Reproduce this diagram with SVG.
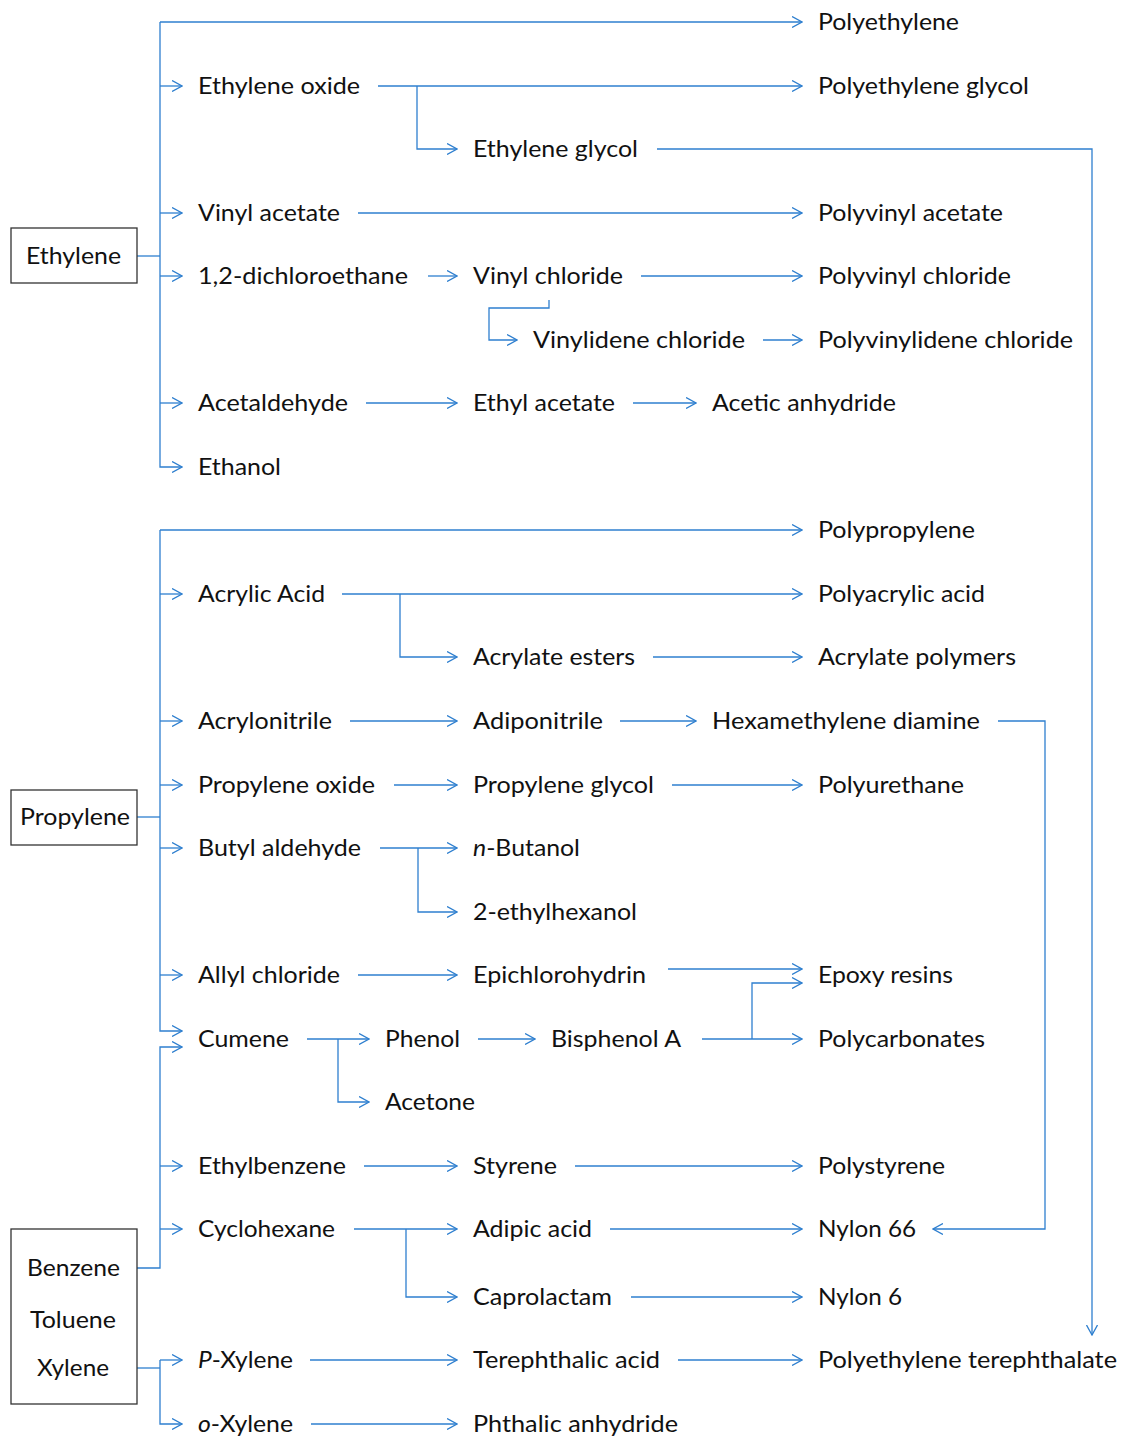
<svg xmlns="http://www.w3.org/2000/svg" width="1121" height="1438" viewBox="0 0 1121 1438">
<style>
text{font-family:Lato,"Noto Sans","Liberation Sans",sans-serif;font-size:23px;fill:#111;}
.c{fill:none;stroke:#2E7FCF;stroke-width:1.3;}
.a{marker-end:url(#ah);}
.box{fill:#fff;stroke:#333;stroke-width:1.3;}
.i{font-style:italic;}
</style>
<defs>
<marker id="ah" viewBox="0 0 11 12" refX="10" refY="6" markerWidth="11" markerHeight="12" markerUnits="userSpaceOnUse" orient="auto">
<path d="M0,0.5 L10,6 L0,11.5" fill="none" stroke="#2E7FCF" stroke-width="1.3"/>
</marker>
</defs>
<rect width="1121" height="1438" fill="#fff"/>
<g id="connectors">
<path class="c a" d="M160,22 H802"/>
<path class="c a" d="M160,22 V467 H182"/>
<path class="c" d="M137,256 H160"/>
<path class="c a" d="M160,86 H182"/>
<path class="c a" d="M160,213 H182"/>
<path class="c a" d="M160,276 H182"/>
<path class="c a" d="M160,403 H182"/>
<path class="c a" d="M378,86 H802"/>
<path class="c a" d="M417,86 V149 H457"/>
<path class="c a" d="M657,149 H1092 V1335"/>
<path class="c a" d="M358,213 H802"/>
<path class="c a" d="M428,276 H457"/>
<path class="c a" d="M641,276 H802"/>
<path class="c a" d="M549,300 V308 H489 V340 H517"/>
<path class="c a" d="M763,340 H802"/>
<path class="c a" d="M366,403 H457"/>
<path class="c a" d="M633,403 H696"/>
<path class="c a" d="M160,530 H802"/>
<path class="c a" d="M160,530 V1031 H182"/>
<path class="c" d="M137,817 H160"/>
<path class="c a" d="M160,594 H182"/>
<path class="c a" d="M160,721 H182"/>
<path class="c a" d="M160,785 H182"/>
<path class="c a" d="M160,848 H182"/>
<path class="c a" d="M160,975 H182"/>
<path class="c a" d="M342,594 H802"/>
<path class="c a" d="M400,594 V657 H457"/>
<path class="c a" d="M653,657 H802"/>
<path class="c a" d="M350,721 H457"/>
<path class="c a" d="M620,721 H696"/>
<path class="c a" d="M998,721 H1045 V1229 H933"/>
<path class="c a" d="M394,785 H457"/>
<path class="c a" d="M672,785 H802"/>
<path class="c a" d="M380,848 H457"/>
<path class="c a" d="M418,848 V912 H457"/>
<path class="c a" d="M358,975 H457"/>
<path class="c a" d="M668,969 H802"/>
<path class="c a" d="M702,1039 H802"/>
<path class="c a" d="M752,1039 V983 H802"/>
<path class="c a" d="M307,1039 H369"/>
<path class="c a" d="M338,1039 V1102 H369"/>
<path class="c a" d="M478,1039 H535"/>
<path class="c a" d="M137,1268 H160 V1047 H182"/>
<path class="c a" d="M160,1166 H182"/>
<path class="c a" d="M160,1229 H182"/>
<path class="c a" d="M364,1166 H457"/>
<path class="c a" d="M575,1166 H802"/>
<path class="c a" d="M354,1229 H457"/>
<path class="c a" d="M406,1229 V1297 H457"/>
<path class="c a" d="M610,1229 H802"/>
<path class="c a" d="M631,1297 H802"/>
<path class="c" d="M137,1368 H160"/>
<path class="c a" d="M160,1360 V1424 H182"/>
<path class="c a" d="M160,1360 H182"/>
<path class="c a" d="M310,1360 H457"/>
<path class="c a" d="M678,1360 H802"/>
<path class="c a" d="M311,1424 H457"/>
</g>
<g id="ethylene"><rect class="box" x="11" y="228" width="126" height="55"/><text x="26" y="264" textLength="95" lengthAdjust="spacingAndGlyphs">Ethylene</text></g>
<g id="polyethylene"><text x="818" y="30" textLength="141" lengthAdjust="spacingAndGlyphs">Polyethylene</text></g>
<g id="ethylene-oxide"><text x="198" y="94" textLength="162" lengthAdjust="spacingAndGlyphs">Ethylene oxide</text></g>
<g id="polyethylene-glycol"><text x="818" y="94" textLength="211" lengthAdjust="spacingAndGlyphs">Polyethylene glycol</text></g>
<g id="ethylene-glycol"><text x="473" y="157" textLength="165" lengthAdjust="spacingAndGlyphs">Ethylene glycol</text></g>
<g id="vinyl-acetate"><text x="198" y="221" textLength="142" lengthAdjust="spacingAndGlyphs">Vinyl acetate</text></g>
<g id="polyvinyl-acetate"><text x="818" y="221" textLength="185" lengthAdjust="spacingAndGlyphs">Polyvinyl acetate</text></g>
<g id="dichloroethane"><text x="198" y="284" textLength="210" lengthAdjust="spacingAndGlyphs">1,2-dichloroethane</text></g>
<g id="vinyl-chloride"><text x="473" y="284" textLength="150" lengthAdjust="spacingAndGlyphs">Vinyl chloride</text></g>
<g id="polyvinyl-chloride"><text x="818" y="284" textLength="193" lengthAdjust="spacingAndGlyphs">Polyvinyl chloride</text></g>
<g id="vinylidene-chloride"><text x="533" y="348" textLength="212" lengthAdjust="spacingAndGlyphs">Vinylidene chloride</text></g>
<g id="polyvinylidene-chloride"><text x="818" y="348" textLength="255" lengthAdjust="spacingAndGlyphs">Polyvinylidene chloride</text></g>
<g id="acetaldehyde"><text x="198" y="411" textLength="150" lengthAdjust="spacingAndGlyphs">Acetaldehyde</text></g>
<g id="ethyl-acetate"><text x="473" y="411" textLength="142" lengthAdjust="spacingAndGlyphs">Ethyl acetate</text></g>
<g id="acetic-anhydride"><text x="712" y="411" textLength="184" lengthAdjust="spacingAndGlyphs">Acetic anhydride</text></g>
<g id="ethanol"><text x="198" y="475" textLength="83" lengthAdjust="spacingAndGlyphs">Ethanol</text></g>
<g id="propylene"><rect class="box" x="11" y="790" width="126" height="55"/><text x="20" y="825" textLength="110" lengthAdjust="spacingAndGlyphs">Propylene</text></g>
<g id="polypropylene"><text x="818" y="538" textLength="157" lengthAdjust="spacingAndGlyphs">Polypropylene</text></g>
<g id="acrylic-acid"><text x="198" y="602" textLength="127" lengthAdjust="spacingAndGlyphs">Acrylic Acid</text></g>
<g id="polyacrylic-acid"><text x="818" y="602" textLength="167" lengthAdjust="spacingAndGlyphs">Polyacrylic acid</text></g>
<g id="acrylate-esters"><text x="473" y="665" textLength="162" lengthAdjust="spacingAndGlyphs">Acrylate esters</text></g>
<g id="acrylate-polymers"><text x="818" y="665" textLength="198" lengthAdjust="spacingAndGlyphs">Acrylate polymers</text></g>
<g id="acrylonitrile"><text x="198" y="729" textLength="134" lengthAdjust="spacingAndGlyphs">Acrylonitrile</text></g>
<g id="adiponitrile"><text x="473" y="729" textLength="130" lengthAdjust="spacingAndGlyphs">Adiponitrile</text></g>
<g id="hexamethylene-diamine"><text x="712" y="729" textLength="268" lengthAdjust="spacingAndGlyphs">Hexamethylene diamine</text></g>
<g id="propylene-oxide"><text x="198" y="793" textLength="177" lengthAdjust="spacingAndGlyphs">Propylene oxide</text></g>
<g id="propylene-glycol"><text x="473" y="793" textLength="181" lengthAdjust="spacingAndGlyphs">Propylene glycol</text></g>
<g id="polyurethane"><text x="818" y="793" textLength="146" lengthAdjust="spacingAndGlyphs">Polyurethane</text></g>
<g id="butyl-aldehyde"><text x="198" y="856" textLength="163" lengthAdjust="spacingAndGlyphs">Butyl aldehyde</text></g>
<g id="n-butanol"><text x="473" y="856" textLength="107" lengthAdjust="spacingAndGlyphs"><tspan class="i">n</tspan>-Butanol</text></g>
<g id="ethylhexanol"><text x="473" y="920" textLength="164" lengthAdjust="spacingAndGlyphs">2-ethylhexanol</text></g>
<g id="allyl-chloride"><text x="198" y="983" textLength="142" lengthAdjust="spacingAndGlyphs">Allyl chloride</text></g>
<g id="epichlorohydrin"><text x="473" y="983" textLength="173" lengthAdjust="spacingAndGlyphs">Epichlorohydrin</text></g>
<g id="epoxy-resins"><text x="818" y="983" textLength="135" lengthAdjust="spacingAndGlyphs">Epoxy resins</text></g>
<g id="cumene"><text x="198" y="1047" textLength="91" lengthAdjust="spacingAndGlyphs">Cumene</text></g>
<g id="phenol"><text x="385" y="1047" textLength="75" lengthAdjust="spacingAndGlyphs">Phenol</text></g>
<g id="bisphenol-a"><text x="551" y="1047" textLength="130" lengthAdjust="spacingAndGlyphs">Bisphenol A</text></g>
<g id="polycarbonates"><text x="818" y="1047" textLength="167" lengthAdjust="spacingAndGlyphs">Polycarbonates</text></g>
<g id="acetone"><text x="385" y="1110" textLength="90" lengthAdjust="spacingAndGlyphs">Acetone</text></g>
<g id="ethylbenzene"><text x="198" y="1174" textLength="148" lengthAdjust="spacingAndGlyphs">Ethylbenzene</text></g>
<g id="styrene"><text x="473" y="1174" textLength="84" lengthAdjust="spacingAndGlyphs">Styrene</text></g>
<g id="polystyrene"><text x="818" y="1174" textLength="127" lengthAdjust="spacingAndGlyphs">Polystyrene</text></g>
<g id="cyclohexane"><text x="198" y="1237" textLength="137" lengthAdjust="spacingAndGlyphs">Cyclohexane</text></g>
<g id="adipic-acid"><text x="473" y="1237" textLength="119" lengthAdjust="spacingAndGlyphs">Adipic acid</text></g>
<g id="nylon-66"><text x="818" y="1237" textLength="98" lengthAdjust="spacingAndGlyphs">Nylon 66</text></g>
<g id="caprolactam"><text x="473" y="1305" textLength="139" lengthAdjust="spacingAndGlyphs">Caprolactam</text></g>
<g id="nylon-6"><text x="818" y="1305" textLength="84" lengthAdjust="spacingAndGlyphs">Nylon 6</text></g>
<g id="btx"><rect class="box" x="11" y="1229" width="126" height="175"/><text x="27" y="1276" textLength="93" lengthAdjust="spacingAndGlyphs">Benzene</text><text x="30" y="1328" textLength="86" lengthAdjust="spacingAndGlyphs">Toluene</text><text x="37" y="1376" textLength="72" lengthAdjust="spacingAndGlyphs">Xylene</text></g>
<g id="p-xylene"><text x="198" y="1368" textLength="95" lengthAdjust="spacingAndGlyphs"><tspan class="i">P</tspan>-Xylene</text></g>
<g id="terephthalic-acid"><text x="473" y="1368" textLength="187" lengthAdjust="spacingAndGlyphs">Terephthalic acid</text></g>
<g id="pet"><text x="818" y="1368" textLength="299" lengthAdjust="spacingAndGlyphs">Polyethylene terephthalate</text></g>
<g id="o-xylene"><text x="198" y="1432" textLength="95" lengthAdjust="spacingAndGlyphs"><tspan class="i">o</tspan>-Xylene</text></g>
<g id="phthalic-anhydride"><text x="473" y="1432" textLength="205" lengthAdjust="spacingAndGlyphs">Phthalic anhydride</text></g>
</svg>
